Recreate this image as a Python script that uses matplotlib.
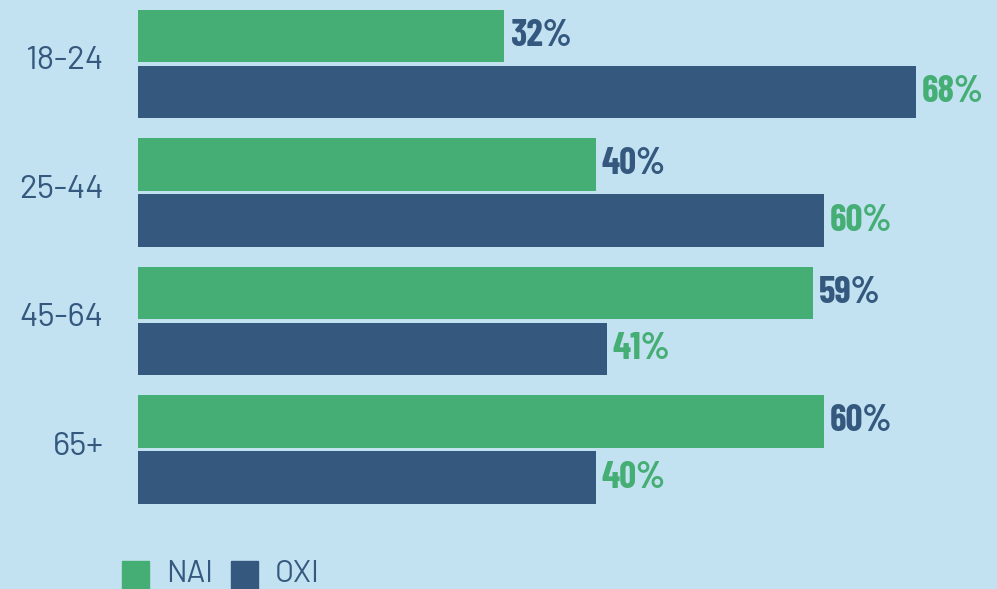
import matplotlib.pyplot as plt
from matplotlib.patches import Rectangle

# ---------------------------------------------------------------------------
# Data
# ---------------------------------------------------------------------------
age_groups = ["18-24", "25-44", "45-64", "65+"]
nai_pct = [32, 40, 59, 60]
oxi_pct = [68, 60, 41, 40]
series_names = ["NAI", "OXI"]

# ---------------------------------------------------------------------------
# Style
# ---------------------------------------------------------------------------
BG = "#c3e2f1"
GREEN = "#45ae74"
NAVY = "#35587f"
LABEL_FONT = ["Barlow", "DejaVu Sans"]
VALUE_FONT = ["Barlow Condensed", "DejaVu Sans"]

W, H = 997, 589
fig = plt.figure(figsize=(W / 100, H / 100), dpi=100, facecolor=BG)

# axes spans from the bar baseline to the right edge, full height
x0 = 138
ax = fig.add_axes([x0 / W, 0, 1 - x0 / W, 1])
ax.set_facecolor(BG)

px_per_pct = 11.44
ax.set_xlim(0, (W - x0) / px_per_pct)
group_px = 128.5
first_center = 64
ax.set_ylim((H - first_center) / group_px, -first_center / group_px)

off = 0.218
bh = 0.405
ypos = list(range(len(age_groups)))

ax.barh([y - off for y in ypos], nai_pct, height=bh, color=GREEN)
ax.barh([y + off for y in ypos], oxi_pct, height=bh, color=NAVY)

for y, v in zip(ypos, nai_pct):
    ax.text(v + 0.5, y - off, f"{v}%", va="center", ha="left",
            fontsize=27, fontweight="bold", color=NAVY, family=VALUE_FONT)
for y, v in zip(ypos, oxi_pct):
    ax.text(v + 0.5, y + off, f"{v}%", va="center", ha="left",
            fontsize=27, fontweight="bold", color=GREEN, family=VALUE_FONT)

for y, name in zip(ypos, age_groups):
    ax.text(-3.0, y - 0.02, name, va="center", ha="right", fontsize=24,
            color=NAVY, family=LABEL_FONT)

ax.axis("off")

# legend drawn by hand at the bottom
sq = 27
leg_items = [(series_names[0], GREEN, 122), (series_names[1], NAVY, 231)]
for name, col, lx in leg_items:
    fig.patches.append(Rectangle((lx / W, (H - 589) / H), sq / W, 28 / H,
                                 transform=fig.transFigure, color=col))
    fig.text((lx + sq + 17) / W, (H - 574) / H, name, va="center", ha="left",
             fontsize=22, color=NAVY, family=LABEL_FONT)

fig.savefig("out.png", dpi=100, facecolor=BG)
